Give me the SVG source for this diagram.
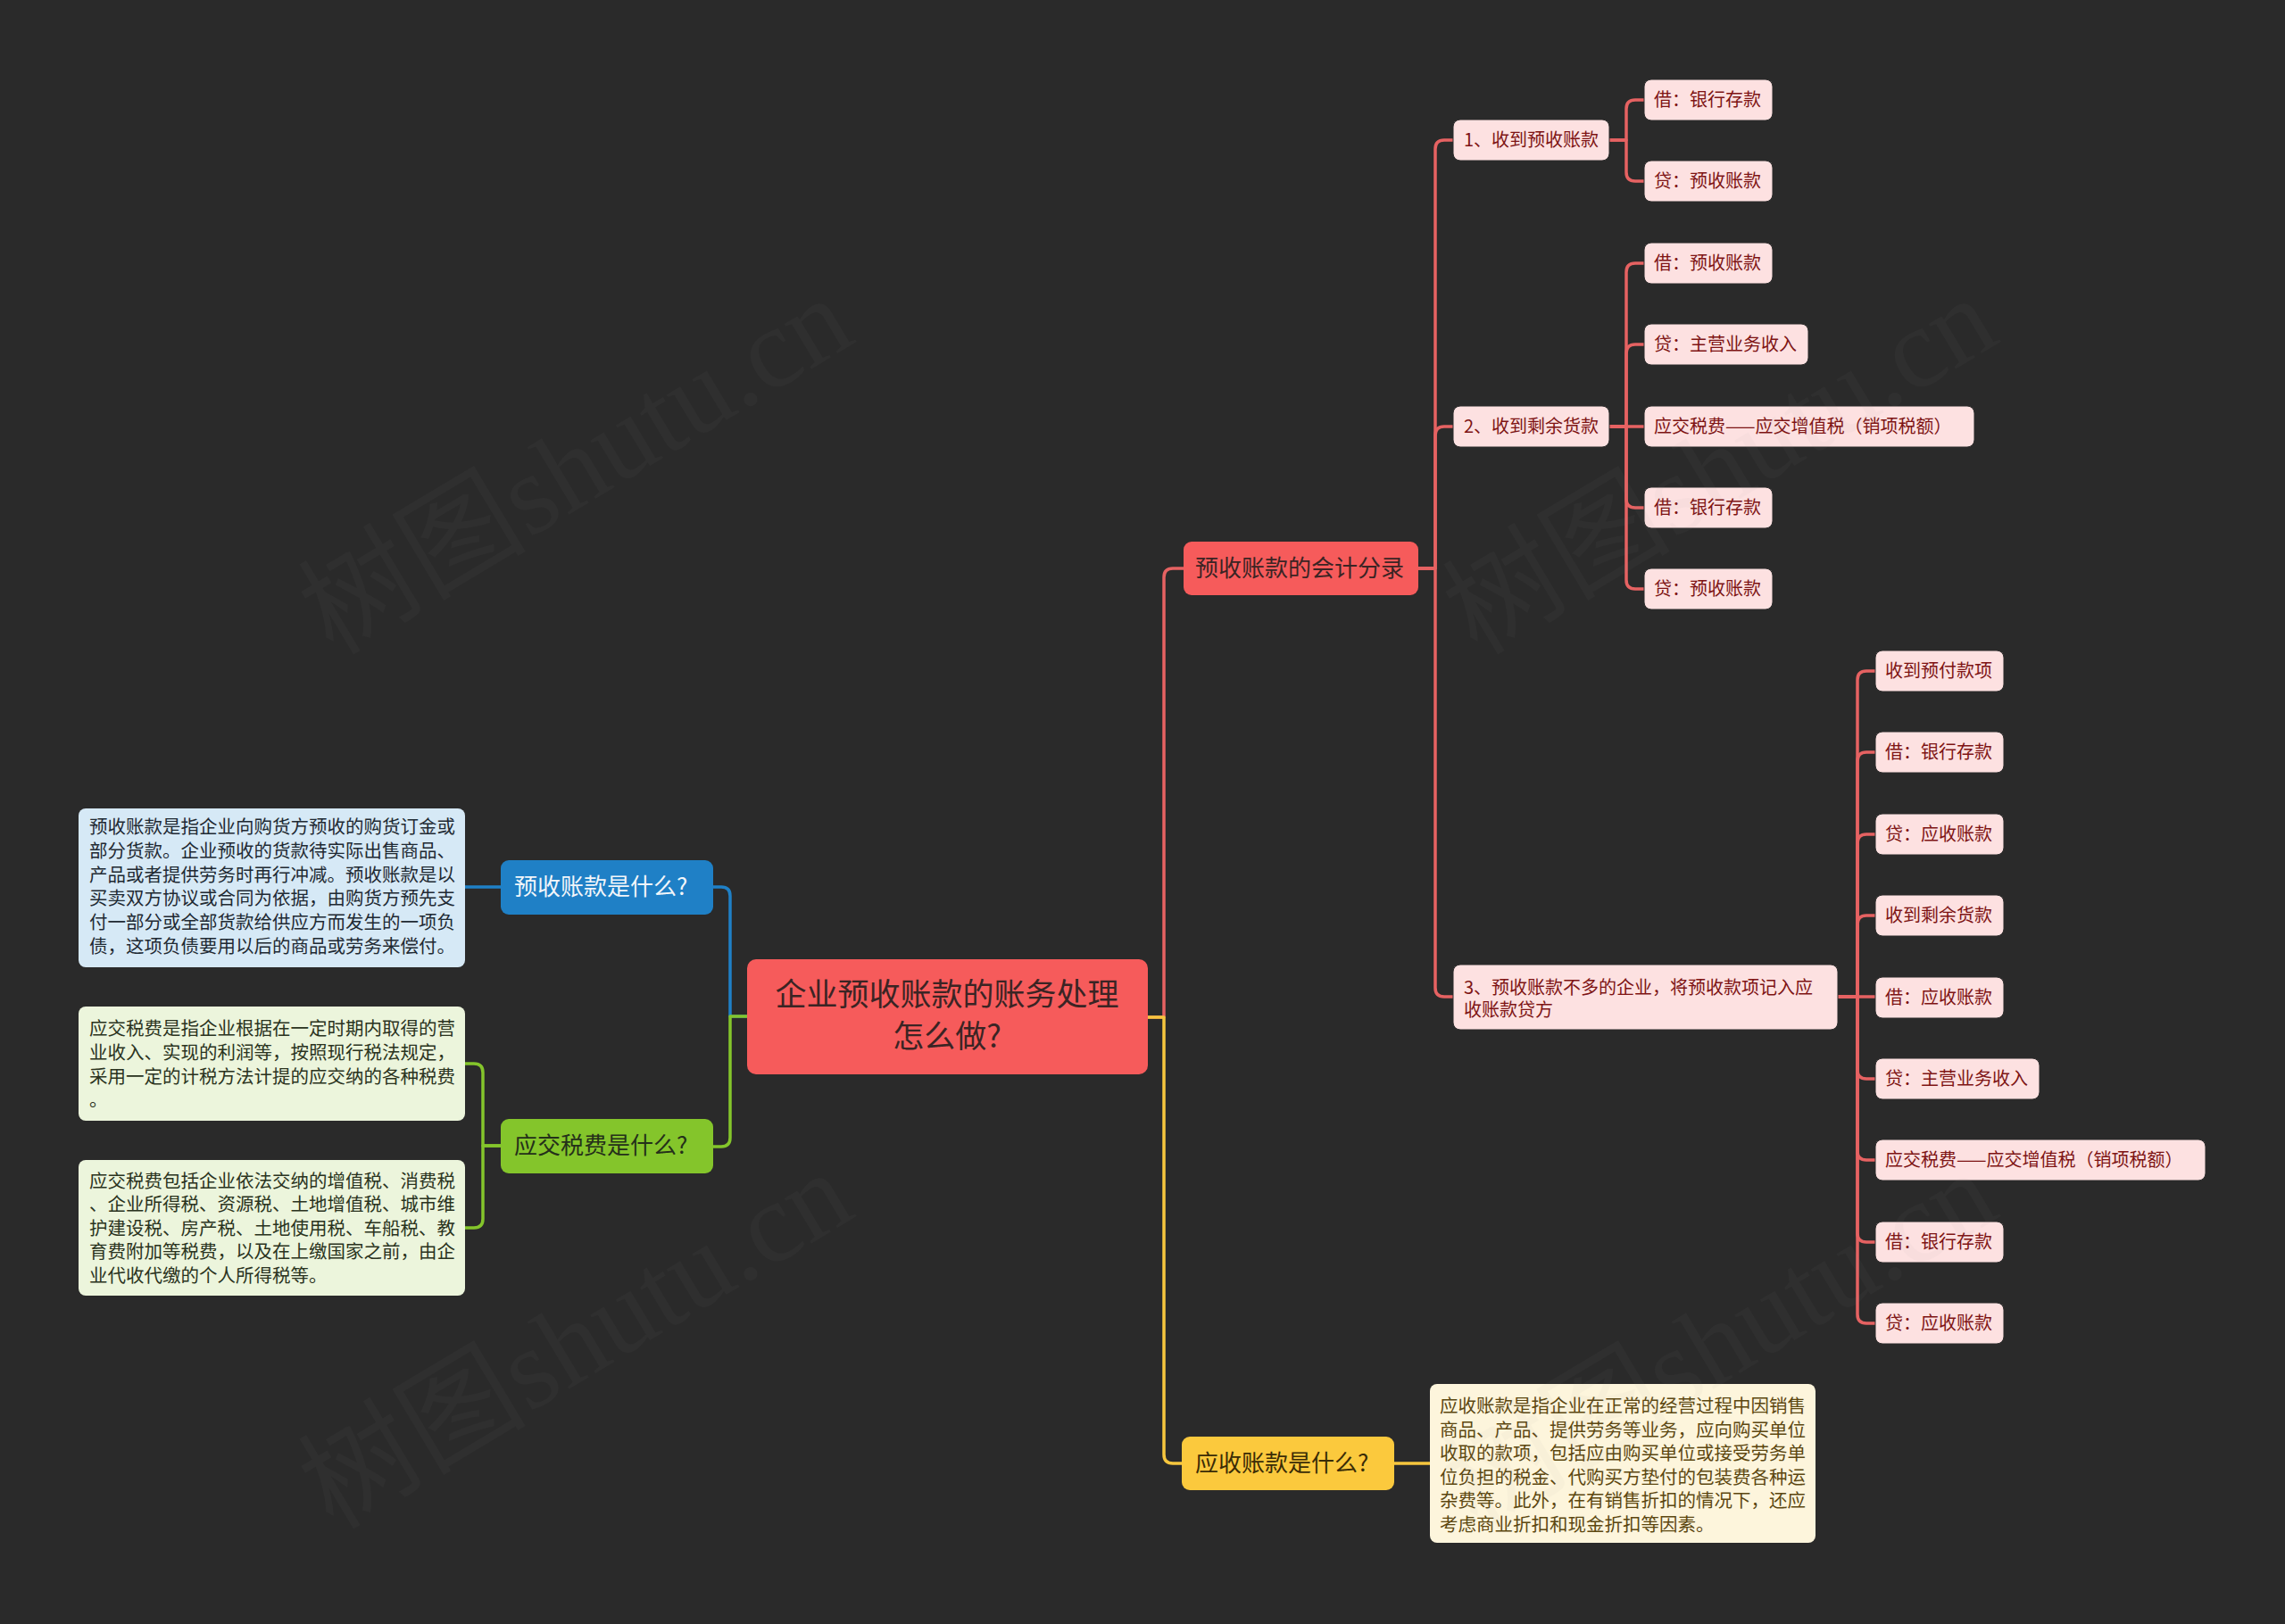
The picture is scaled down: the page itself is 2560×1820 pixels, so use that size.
<svg xmlns="http://www.w3.org/2000/svg" width="2560" height="1820" viewBox="0 0 2560 1820">
<style>
text{font-family:"Noto Sans CJK SC","Noto Sans",sans-serif}
.c{fill:none;stroke-width:3.5;stroke-linecap:round;stroke-linejoin:round}
.cr{stroke:#e66262}.cb{stroke:#1f80c6}.cg{stroke:#84c52b}.cy{stroke:#f6c63e}
.l3 rect{fill:#fde1e1;stroke:#2a2a2a;stroke-width:1}
.l3 text{font-size:20px;fill:#7e1414}
.l1 text{font-size:26px}
.d text{font-size:20.5px}
.wm{font-family:"Liberation Serif","Noto Sans CJK SC",serif;font-size:128px;fill:#9a9a9a;opacity:0.045}
</style>
<rect x="0" y="0" width="2560" height="1820" fill="#2a2a2a"/>

<g id="connectors">
<path class="c cr" d="M1285,1140 H1304 V647 Q1304,637 1314,637 H1326"/>
<path class="c cy" d="M1285,1140 H1304 V1630 Q1304,1640 1314,1640 H1324"/>
<path class="c cb" d="M838,1139 H818 V1004 Q818,994 808,994 H799"/>
<path class="c cg" d="M838,1139 H818 V1275 Q818,1285 808,1285 H799"/>
<path class="c cb" d="M561,994 H521"/>
<path class="c cg" d="M561,1284 H541 V1202 Q541,1192 531,1192 H521"/>
<path class="c cg" d="M561,1284 H541 V1366 Q541,1376 531,1376 H521"/>
<path class="c cy" d="M1562,1640 H1602"/>
<path class="c cr" d="M1589,637 H1608 V167 Q1608,157 1618,157 H1628"/>
<path class="c cr" d="M1589,637 H1608 V488 Q1608,478 1618,478 H1628"/>
<path class="c cr" d="M1589,637 H1608 V1107 Q1608,1117 1618,1117 H1628"/>
<path class="c cr" d="M1803,157 H1822 V122 Q1822,112 1832,112 H1842"/>
<path class="c cr" d="M1803,157 H1822 V193 Q1822,203 1832,203 H1842"/>
<path class="c cr" d="M1803,478 H1822 V305 Q1822,295 1832,295 H1842"/>
<path class="c cr" d="M1803,478 H1822 V396 Q1822,386 1832,386 H1842"/>
<path class="c cr" d="M1803,478 H1842"/>
<path class="c cr" d="M1803,478 H1822 V559 Q1822,569 1832,569 H1842"/>
<path class="c cr" d="M1803,478 H1822 V650 Q1822,660 1832,660 H1842"/>
<path class="c cr" d="M2059,1117 H2081 V762 Q2081,752 2091,752 H2101"/>
<path class="c cr" d="M2059,1117 H2081 V853 Q2081,843 2091,843 H2101"/>
<path class="c cr" d="M2059,1117 H2081 V945 Q2081,935 2091,935 H2101"/>
<path class="c cr" d="M2059,1117 H2081 V1036 Q2081,1026 2091,1026 H2101"/>
<path class="c cr" d="M2059,1117 H2101"/>
<path class="c cr" d="M2059,1117 H2081 V1199 Q2081,1209 2091,1209 H2101"/>
<path class="c cr" d="M2059,1117 H2081 V1290 Q2081,1300 2091,1300 H2101"/>
<path class="c cr" d="M2059,1117 H2081 V1382 Q2081,1392 2091,1392 H2101"/>
<path class="c cr" d="M2059,1117 H2081 V1473 Q2081,1483 2091,1483 H2101"/>
</g>

<g id="root">
<rect x="837" y="1075" width="449" height="129" rx="10" fill="#f65b5b"/>
<text x="1061" y="1127" font-size="35" fill="#3b2424" text-anchor="middle">企业预收账款的账务处理</text>
<text x="1061" y="1174" font-size="35" fill="#3b2424" text-anchor="middle">怎么做?</text>
</g>

<g id="n-kuaiji" class="l1">
<rect x="1326" y="607" width="263" height="60" rx="9" fill="#f65b5b"/>
<text x="1339" y="646" fill="#3b2424">预收账款的会计分录</text>
</g>
<g id="n-yingshou" class="l1">
<rect x="1324" y="1610" width="238" height="60" rx="9" fill="#fbc93d"/>
<text x="1339" y="1649" fill="#3a2c06">应收账款是什么?</text>
</g>
<g id="n-yushou" class="l1">
<rect x="561" y="964" width="238" height="61" rx="9" fill="#1f80c6"/>
<text x="576" y="1003" fill="#f2f6fa">预收账款是什么?</text>
</g>
<g id="n-shuifei" class="l1">
<rect x="561" y="1254" width="238" height="61" rx="9" fill="#84c52b"/>
<text x="576" y="1293" fill="#24301a">应交税费是什么?</text>
</g>

<g id="d-yushou" class="d">
<rect x="88" y="906" width="433" height="178" rx="8" fill="#d6e9f6"/>
<g fill="#1f2a33">
<text x="100" y="934">预收账款是指企业向购货方预收的购货订金或</text>
<text x="100" y="961">部分货款。企业预收的货款待实际出售商品、</text>
<text x="100" y="988">产品或者提供劳务时再行冲减。预收账款是以</text>
<text x="100" y="1014">买卖双方协议或合同为依据，由购货方预先支</text>
<text x="100" y="1041">付一部分或全部货款给供应方而发生的一项负</text>
<text x="100" y="1068">债，这项负债要用以后的商品或劳务来偿付。</text>
</g>
</g>

<g id="d-shuifei1" class="d">
<rect x="88" y="1128" width="433" height="128" rx="8" fill="#ecf5dc"/>
<g fill="#2a3320">
<text x="100" y="1160">应交税费是指企业根据在一定时期内取得的营</text>
<text x="100" y="1187">业收入、实现的利润等，按照现行税法规定，</text>
<text x="100" y="1214">采用一定的计税方法计提的应交纳的各种税费</text>
<text x="100" y="1240">。</text>
</g>
</g>

<g id="d-shuifei2" class="d">
<rect x="88" y="1300" width="433" height="152" rx="8" fill="#ecf5dc"/>
<g fill="#2a3320">
<text x="100" y="1331">应交税费包括企业依法交纳的增值税、消费税</text>
<text x="100" y="1357">、企业所得税、资源税、土地增值税、城市维</text>
<text x="100" y="1384">护建设税、房产税、土地使用税、车船税、教</text>
<text x="100" y="1410">育费附加等税费，以及在上缴国家之前，由企</text>
<text x="100" y="1437">业代收代缴的个人所得税等。</text>
</g>
</g>

<g id="d-yingshou" class="d">
<rect x="1602" y="1551" width="432" height="178" rx="8" fill="#fdf5dc"/>
<g fill="#5c4710">
<text x="1613" y="1583">应收账款是指企业在正常的经营过程中因销售</text>
<text x="1613" y="1610">商品、产品、提供劳务等业务，应向购买单位</text>
<text x="1613" y="1636">收取的款项，包括应由购买单位或接受劳务单</text>
<text x="1613" y="1663">位负担的税金、代购买方垫付的包装费各种运</text>
<text x="1613" y="1689">杂费等。此外，在有销售折扣的情况下，还应</text>
<text x="1613" y="1716">考虑商业折扣和现金折扣等因素。</text>
</g>
</g>

<g id="n-1" class="l3"><rect x="1628" y="134" width="175" height="46" rx="8"/><text x="1640" y="164">1、收到预收账款</text></g>
<g id="n-2" class="l3"><rect x="1628" y="455" width="175" height="46" rx="8"/><text x="1640" y="485">2、收到剩余货款</text></g>
<g id="n-3" class="l3"><rect x="1628" y="1081" width="431" height="73" rx="8"/><text x="1640" y="1114">3、预收账款不多的企业，将预收款项记入应</text><text x="1640" y="1139">收账款贷方</text></g>

<g id="n-1-1" class="l3"><rect x="1842" y="89" width="144" height="46" rx="8"/><text x="1853" y="119">借：银行存款</text></g>
<g id="n-1-2" class="l3"><rect x="1842" y="180" width="144" height="46" rx="8"/><text x="1853" y="210">贷：预收账款</text></g>

<g id="n-2-1" class="l3"><rect x="1842" y="272" width="144" height="46" rx="8"/><text x="1853" y="302">借：预收账款</text></g>
<g id="n-2-2" class="l3"><rect x="1842" y="363" width="184" height="46" rx="8"/><text x="1853" y="393">贷：主营业务收入</text></g>
<g id="n-2-3" class="l3"><rect x="1842" y="455" width="370" height="46" rx="8"/><text x="1853" y="485">应交税费——应交增值税（销项税额）</text></g>
<g id="n-2-4" class="l3"><rect x="1842" y="546" width="144" height="46" rx="8"/><text x="1853" y="576">借：银行存款</text></g>
<g id="n-2-5" class="l3"><rect x="1842" y="637" width="144" height="46" rx="8"/><text x="1853" y="667">贷：预收账款</text></g>

<g id="n-3-1" class="l3"><rect x="2101" y="729" width="144" height="46" rx="8"/><text x="2112" y="759">收到预付款项</text></g>
<g id="n-3-2" class="l3"><rect x="2101" y="820" width="144" height="46" rx="8"/><text x="2112" y="850">借：银行存款</text></g>
<g id="n-3-3" class="l3"><rect x="2101" y="912" width="144" height="46" rx="8"/><text x="2112" y="942">贷：应收账款</text></g>
<g id="n-3-4" class="l3"><rect x="2101" y="1003" width="144" height="46" rx="8"/><text x="2112" y="1033">收到剩余货款</text></g>
<g id="n-3-5" class="l3"><rect x="2101" y="1095" width="144" height="46" rx="8"/><text x="2112" y="1125">借：应收账款</text></g>
<g id="n-3-6" class="l3"><rect x="2101" y="1186" width="184" height="46" rx="8"/><text x="2112" y="1216">贷：主营业务收入</text></g>
<g id="n-3-7" class="l3"><rect x="2101" y="1277" width="370" height="46" rx="8"/><text x="2112" y="1307">应交税费——应交增值税（销项税额）</text></g>
<g id="n-3-8" class="l3"><rect x="2101" y="1369" width="144" height="46" rx="8"/><text x="2112" y="1399">借：银行存款</text></g>
<g id="n-3-9" class="l3"><rect x="2101" y="1460" width="144" height="46" rx="8"/><text x="2112" y="1490">贷：应收账款</text></g>

<g id="watermark">
<text class="wm" x="645" y="522" text-anchor="middle" dominant-baseline="central" transform="rotate(-31 645 522)">树图shutu.cn</text>
<text class="wm" x="1927" y="522" text-anchor="middle" dominant-baseline="central" transform="rotate(-31 1927 522)">树图shutu.cn</text>
<text class="wm" x="645" y="1502" text-anchor="middle" dominant-baseline="central" transform="rotate(-31 645 1502)">树图shutu.cn</text>
<text class="wm" x="1927" y="1502" text-anchor="middle" dominant-baseline="central" transform="rotate(-31 1927 1502)">树图shutu.cn</text>
</g>
</svg>
